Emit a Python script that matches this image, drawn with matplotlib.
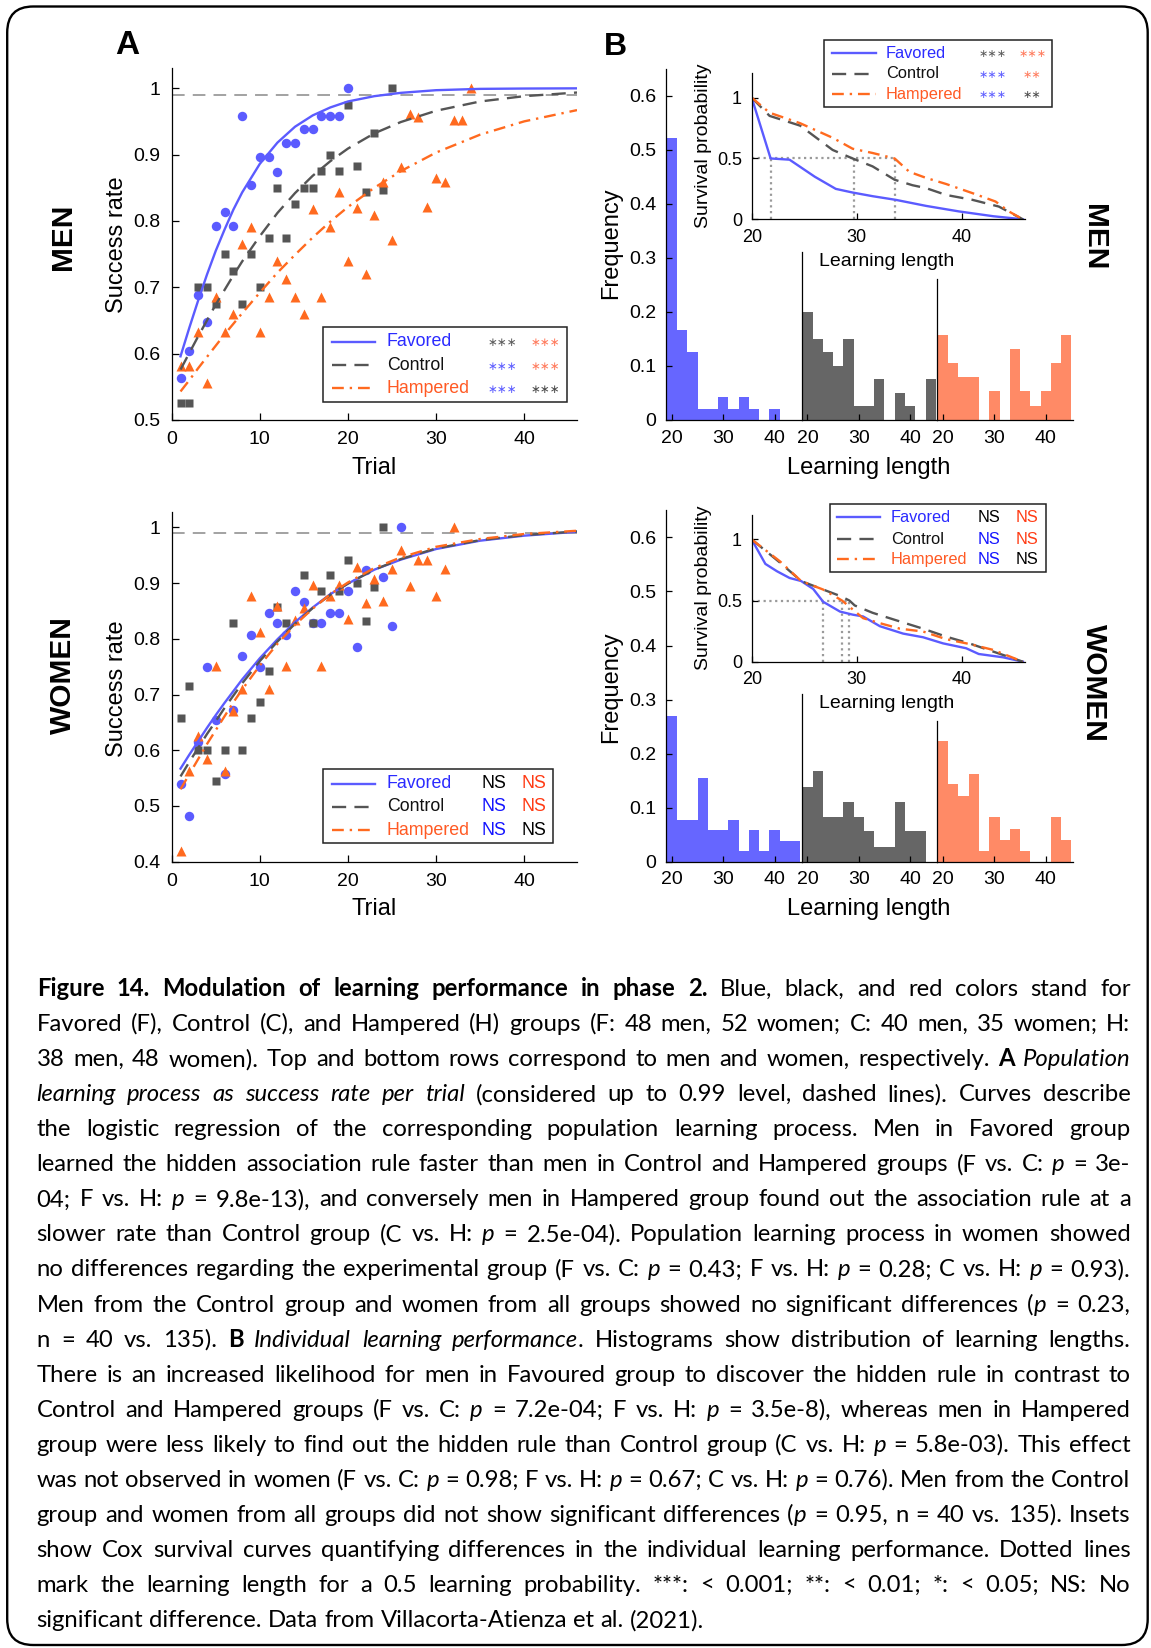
import numpy as np
import matplotlib
matplotlib.use('Agg')
import matplotlib.pyplot as plt
from matplotlib.patches import FancyBboxPatch, Rectangle
from matplotlib.lines import Line2D

plt.rcParams['font.family'] = ['Liberation Sans', 'DejaVu Sans']

# ---------------------------------------------------------------- data
GROUPS = ['Favored', 'Control', 'Hampered']
LEVEL = 0.99

A_XTICKS = [0, 10, 20, 30, 40]
MEN_YTICKS = [0.5, 0.6, 0.7, 0.8, 0.9, 1.0]
MEN_YLABELS = ['0.5', '0.6', '0.7', '0.8', '0.9', '1']
WOMEN_YTICKS = [0.4, 0.5, 0.6, 0.7, 0.8, 0.9, 1.0]
WOMEN_YLABELS = ['0.4', '0.5', '0.6', '0.7', '0.8', '0.9', '1']

# success rate per trial (men)
men_F_trial = [1, 2, 3, 4, 5, 6, 7, 8, 9, 10, 11, 12, 13, 14, 15, 16, 17, 18, 19, 20]
men_F_rate = [0.563, 0.604, 0.688, 0.648, 0.793, 0.813, 0.793, 0.958, 0.854, 0.897,
              0.897, 0.874, 0.917, 0.917, 0.938, 0.938, 0.958, 0.958, 0.958, 1.0]
men_C_trial = [1, 2, 3, 4, 5, 6, 7, 8, 9, 10, 11, 12, 13, 14, 15, 16, 17, 18, 19, 20,
               21, 22, 23, 24, 25]
men_C_rate = [0.525, 0.525, 0.700, 0.700, 0.675, 0.750, 0.725, 0.675, 0.750, 0.700,
              0.775, 0.850, 0.775, 0.825, 0.850, 0.850, 0.875, 0.900, 0.875, 0.975,
              0.883, 0.844, 0.933, 0.846, 1.0]
men_H_trial = [1, 2, 3, 4, 5, 6, 7, 8, 9, 10, 11, 12, 13, 14, 15, 16, 17, 18, 19, 20,
               21, 22, 23, 24, 25, 26, 27, 28, 29, 30, 31, 32, 33, 34]
men_H_rate = [0.581, 0.581, 0.633, 0.556, 0.685, 0.633, 0.659, 0.765, 0.791, 0.633,
              0.686, 0.739, 0.712, 0.686, 0.659, 0.818, 0.686, 0.791, 0.844, 0.739,
              0.820, 0.720, 0.809, 0.859, 0.771, 0.882, 0.961, 0.956, 0.821, 0.865,
              0.859, 0.952, 0.952, 1.0]

# success rate per trial (women)
women_F_trial = [1, 2, 3, 4, 5, 6, 7, 8, 9, 10, 11, 12, 13, 14, 15, 16, 17, 18, 19, 20,
                 21, 22, 24, 25, 26]
women_F_rate = [0.539, 0.482, 0.615, 0.750, 0.655, 0.557, 0.673, 0.769, 0.807, 0.750,
                0.847, 0.828, 0.807, 0.885, 0.866, 0.828, 0.828, 0.847, 0.847, 0.885,
                0.786, 0.923, 0.911, 0.823, 1.0]
women_C_trial = [1, 2, 3, 4, 5, 6, 7, 8, 9, 10, 11, 12, 13, 15, 16, 17, 18, 19, 20,
                 21, 22, 23, 24]
women_C_rate = [0.657, 0.715, 0.600, 0.600, 0.544, 0.600, 0.829, 0.600, 0.657, 0.686,
                0.743, 0.857, 0.829, 0.914, 0.829, 0.886, 0.914, 0.886, 0.942,
                0.900, 0.832, 0.892, 1.0]
women_H_trial = [1, 2, 3, 4, 5, 6, 7, 8, 9, 10, 11, 12, 13, 14, 15, 16, 17, 18, 19, 20,
                 21, 22, 23, 24, 25, 26, 27, 28, 29, 30, 31, 32]
women_H_rate = [0.419, 0.563, 0.625, 0.585, 0.752, 0.563, 0.670, 0.709, 0.877, 0.813,
                0.709, 0.858, 0.752, 0.834, 0.855, 0.896, 0.752, 0.877, 0.896, 0.835,
                0.928, 0.865, 0.908, 0.868, 0.926, 0.959, 0.895, 0.941, 0.941, 0.877,
                0.925, 1.0]

# logistic regression curves
FIT_TRIAL = [1, 2, 3, 4, 5, 6, 7, 8, 10, 12, 14, 16, 18, 20, 23, 26, 30, 35, 40, 46]
men_fit_F = [0.596, 0.639, 0.680, 0.719, 0.755, 0.787, 0.817, 0.843, 0.886, 0.918,
             0.942, 0.959, 0.971, 0.980, 0.988, 0.993, 0.997, 0.999, 0.9995, 0.9998]
men_fit_C = [0.576, 0.601, 0.626, 0.650, 0.674, 0.696, 0.718, 0.739, 0.777, 0.812,
             0.842, 0.868, 0.890, 0.909, 0.932, 0.949, 0.966, 0.980, 0.988, 0.9935]
men_fit_H = [0.543, 0.560, 0.578, 0.595, 0.612, 0.629, 0.645, 0.661, 0.692, 0.722,
             0.749, 0.775, 0.799, 0.821, 0.850, 0.875, 0.903, 0.930, 0.950, 0.967]
women_fit_F = [0.567, 0.592, 0.616, 0.640, 0.663, 0.685, 0.706, 0.727, 0.765, 0.799,
               0.830, 0.856, 0.880, 0.899, 0.924, 0.942, 0.961, 0.976, 0.985, 0.992]
women_fit_C = [0.553, 0.579, 0.604, 0.629, 0.652, 0.676, 0.698, 0.720, 0.760, 0.795,
               0.827, 0.855, 0.879, 0.899, 0.924, 0.943, 0.962, 0.977, 0.986, 0.9926]
women_fit_H = [0.530, 0.557, 0.584, 0.611, 0.636, 0.661, 0.686, 0.709, 0.752, 0.791,
               0.825, 0.854, 0.880, 0.901, 0.927, 0.946, 0.965, 0.979, 0.988, 0.9938]

# histograms of learning length (bin centres, width 2)
BIN_CENTERS = [20, 22, 24, 26, 28, 30, 32, 34, 36, 38, 40, 42, 44]
HIST_XTICKS = [20, 30, 40]
HIST_YTICKS = [0, 0.1, 0.2, 0.3, 0.4, 0.5, 0.6]
HIST_YLABELS = ['0', '0.1', '0.2', '0.3', '0.4', '0.5', '0.6']
men_hist_F = [0.521, 0.167, 0.125, 0.021, 0.021, 0.042, 0.021, 0.042, 0.021, 0, 0.021, 0, 0]
men_hist_C = [0.200, 0.150, 0.125, 0.100, 0.150, 0.025, 0.025, 0.075, 0, 0.050, 0.025, 0, 0.075]
men_hist_H = [0.158, 0.105, 0.079, 0.079, 0, 0.053, 0, 0.132, 0.053, 0.026, 0.053, 0.105, 0.158]
women_hist_F = [0.269, 0.077, 0.077, 0.154, 0.058, 0.058, 0.077, 0.019, 0.058, 0.019, 0.058, 0.038, 0.038]
women_hist_C = [0.139, 0.167, 0.083, 0.083, 0.111, 0.083, 0.056, 0.028, 0.028, 0.111, 0.056, 0.056, 0]
women_hist_H = [0.224, 0.143, 0.122, 0.163, 0.020, 0.082, 0.041, 0.061, 0.020, 0, 0, 0.082, 0.041]

# Cox survival curves
men_surv_F_x = [20, 21.8, 23.6, 26, 28, 29.6, 31.5, 33.7, 36.6, 39.7, 43, 45.8]
men_surv_F_y = [1.0, 0.5, 0.49, 0.35, 0.25, 0.22, 0.19, 0.16, 0.11, 0.065, 0.025, 0.0]
men_surv_C_x = [20, 21.7, 24.6, 27.7, 29.6, 31.5, 33.6, 35.3, 36.6, 38.5, 41, 43.5, 45.8]
men_surv_C_y = [1.0, 0.85, 0.77, 0.57, 0.50, 0.435, 0.325, 0.28, 0.256, 0.20, 0.16, 0.105, 0.0]
men_surv_H_x = [20, 21.7, 24.6, 27.7, 29.6, 31.5, 33.6, 35, 36.6, 38.5, 41, 43.2, 44.5, 45.8]
men_surv_H_y = [1.0, 0.876, 0.79, 0.67, 0.58, 0.545, 0.50, 0.39, 0.34, 0.29, 0.215, 0.146, 0.063, 0.0]
men_median = [21.8, 29.7, 33.6]

women_surv_F_x = [20, 21.3, 22.4, 23.6, 24.7, 25.85, 26.8, 28.4, 29.6, 30.6, 32.2, 34.4,
                  36.3, 38.2, 40.4, 41.6, 43.9, 45.8]
women_surv_F_y = [1.0, 0.80, 0.74, 0.685, 0.66, 0.595, 0.49, 0.41, 0.385, 0.37, 0.29, 0.23,
                  0.20, 0.15, 0.11, 0.063, 0.036, 0.0]
women_surv_C_x = [20, 22.7, 24.7, 26.8, 28.5, 29.3, 29.8, 31.5, 33.7, 36.3, 38.5, 40.7, 43, 45.8]
women_surv_C_y = [1.0, 0.81, 0.66, 0.59, 0.535, 0.50, 0.46, 0.40, 0.34, 0.27, 0.205, 0.15, 0.082, 0.0]
women_surv_H_x = [20, 22.7, 24.7, 26.8, 28.6, 30.6, 32.2, 34.1, 36.3, 38.5, 40.7, 43, 45.8]
women_surv_H_y = [1.0, 0.82, 0.66, 0.59, 0.50, 0.356, 0.315, 0.27, 0.247, 0.184, 0.145, 0.096, 0.0]
women_median = [26.8, 28.6, 29.3]

SURV_XTICKS = [20, 30, 40]
SURV_YTICKS = [0, 0.5, 1]
SURV_YLABELS = ['0', '0.5', '1']

# significance labels in legends (vs. the other two groups)
STAR3, STAR2 = '\u2217\u2217\u2217', '\u2217\u2217'
men_A_sig = [[STAR3, STAR3], [STAR3, STAR3], [STAR3, STAR3]]
men_B_sig = [[STAR3, STAR3], [STAR3, STAR2], [STAR3, STAR2]]
women_sig = [['NS', 'NS'], ['NS', 'NS'], ['NS', 'NS']]

# ---------------------------------------------------------------- styles
BLUE = '#5b5bff'
GRAY = '#555555'
ORANGE = '#ff6a1f'
HIST_COLORS = ['#6666ff', '#666666', '#ff8a66']
NAME_COLORS = ['#2b2bff', '#111111', '#ff5a24']
STAR_COLORS = [['#5c5c5c', '#ff7a5c'], ['#5e5eff', '#ff7a5c'], ['#5e5eff', '#4a4a4a']]
NS_COLORS = [['#000000', '#ff3b14'], ['#1414ff', '#ff3b14'], ['#1414ff', '#000000']]
LINE_STYLES = [dict(), dict(dashes=(6, 3.5)), dict(dashes=(5, 2.5, 1, 2.5))]
LINE_COLORS = [BLUE, GRAY, ORANGE]

W, H = 1151, 1648
fig = plt.figure(figsize=(W / 100, H / 100), dpi=100)


def fx(x):
    return x / W


def fy(y):
    return 1 - y / H


def rect(x0, y0, x1, y1):
    return [x0 / W, 1 - y1 / H, (x1 - x0) / W, (y1 - y0) / H]


def style_axis(ax, tick_size, pad, length=5):
    for s in ('top', 'right'):
        ax.spines[s].set_visible(False)
    for s in ('left', 'bottom'):
        ax.spines[s].set_linewidth(0.9)
    ax.tick_params(direction='in', length=length, width=0.9, labelsize=tick_size, pad=pad)
    ax.patch.set_alpha(0)


def draw_A(box, ylim, yticks, ylabels, pts, fits):
    ax = fig.add_axes(rect(*box))
    ax.axhline(LEVEL, color='#9b9b9b', lw=1.3, dashes=(7, 4.5), zorder=1)
    markers = [('o', 6.8), ('s', 5.6), ('^', 7.4)]
    for (tx, ty), (m, ms), c in zip(pts, markers, LINE_COLORS):
        ax.plot(tx, ty, m, ms=ms, color=c, mec='none', zorder=2)
    for fy_, c, st in zip(fits, LINE_COLORS, LINE_STYLES):
        ax.plot(FIT_TRIAL, fy_, color=c, lw=1.7, zorder=3, **st)
    ax.set_xlim(0, 46)
    ax.set_ylim(*ylim)
    ax.set_xticks(A_XTICKS)
    ax.set_yticks(yticks)
    ax.set_yticklabels(ylabels)
    style_axis(ax, 14, 8)
    return ax


def draw_hist(bottom, freqs):
    left0, wid = 666.2, 135.6
    per = 540.5
    tops = [0.65, 0.31, 0.26]
    for i in range(3):
        l = left0 + i * wid
        ax = fig.add_axes(rect(l, bottom - tops[i] * per, l + wid, bottom))
        ax.bar(BIN_CENTERS, freqs[i], width=2, color=HIST_COLORS[i], linewidth=0)
        ax.set_xlim(18.9, 45.3)
        ax.set_ylim(0, tops[i])
        ax.set_xticks(HIST_XTICKS)
        style_axis(ax, 14, 7, length=4)
        if i == 0:
            ax.set_yticks(HIST_YTICKS)
            ax.set_yticklabels(HIST_YLABELS)
        else:
            ax.set_yticks([])


def draw_inset(box, curves, medians):
    ax = fig.add_axes(rect(*box))
    dot = dict(colors='#9a9a9a', lw=1.6, linestyles=(0, (1, 1.6)), zorder=1)
    ax.hlines(0.5, 20, max(medians), **dot)
    ax.vlines(medians, 0, 0.5, **dot)
    for (cx, cy), c, st in zip(curves, LINE_COLORS, LINE_STYLES):
        ax.plot(cx, cy, color=c, lw=1.7, zorder=2, **st)
    ax.set_xlim(20, 46)
    ax.set_ylim(0, 1.2)
    ax.set_xticks(SURV_XTICKS)
    ax.set_yticks(SURV_YTICKS)
    ax.set_yticklabels(SURV_YLABELS)
    style_axis(ax, 13, 7, length=4)


def draw_legend(box, sx, tx, rows, cols, sig, sig_colors, fs, sig_fs, is_star):
    x0, y0, x1, y1 = box
    fig.add_artist(Rectangle((fx(x0), fy(y1)), (x1 - x0) / W, (y1 - y0) / H,
                             transform=fig.transFigure, fc='white', ec='#222222',
                             lw=1.1, zorder=5))
    for i, yy in enumerate(rows):
        fig.add_artist(Line2D([fx(sx[0]), fx(sx[1])], [fy(yy), fy(yy)],
                              transform=fig.transFigure, color=LINE_COLORS[i],
                              lw=1.7, zorder=6, **LINE_STYLES[i]))
        fig.text(fx(tx), fy(yy), GROUPS[i], color=NAME_COLORS[i], fontsize=fs,
                 ha='left', va='center', zorder=7)
        for j, cx in enumerate(cols):
            kw = dict(family=['DejaVu Sans']) if is_star else {}
            fig.text(fx(cx), fy(yy + (1.0 if is_star else 0)), sig[i][j],
                     color=sig_colors[i][j], fontsize=sig_fs,
                     ha='center', va='center', zorder=7, **kw)


# ---------------------------------------------------------------- panel A
draw_A((171.7, 68.3, 577, 420), (0.5, 1.03), MEN_YTICKS, MEN_YLABELS,
       [(men_F_trial, men_F_rate), (men_C_trial, men_C_rate), (men_H_trial, men_H_rate)],
       [men_fit_F, men_fit_C, men_fit_H])
draw_A((171.7, 511.7, 577, 861.7), (0.4, 1.028), WOMEN_YTICKS, WOMEN_YLABELS,
       [(women_F_trial, women_F_rate), (women_C_trial, women_C_rate),
        (women_H_trial, women_H_rate)],
       [women_fit_F, women_fit_C, women_fit_H])

# ---------------------------------------------------------------- panel B
draw_hist(420, [men_hist_F, men_hist_C, men_hist_H])
draw_hist(861.7, [women_hist_F, women_hist_C, women_hist_H])
draw_inset((751.7, 73.3, 1025, 219.3),
           [(men_surv_F_x, men_surv_F_y), (men_surv_C_x, men_surv_C_y),
            (men_surv_H_x, men_surv_H_y)], men_median)
draw_inset((751.7, 515, 1025, 661.7),
           [(women_surv_F_x, women_surv_F_y), (women_surv_C_x, women_surv_C_y),
            (women_surv_H_x, women_surv_H_y)], women_median)

# legends
draw_legend((323.3, 326.7, 566.7, 401.7), (331.7, 375), 386.7, (341.7, 365, 388.3),
            (502.3, 545.7), men_A_sig, STAR_COLORS, 12.8, 8.5, True)
draw_legend((323.3, 769.3, 553.3, 843.3), (331.7, 375), 386.7, (784, 806.7, 830),
            (494, 534.3), women_sig, NS_COLORS, 12.8, 12.8, False)
draw_legend((824, 40, 1051.7, 107.3), (831.7, 876), 885.7, (53.3, 74, 94),
            (992.3, 1032.3), men_B_sig, STAR_COLORS, 11.8, 8, True)
draw_legend((830, 504, 1046, 571.7), (836.7, 880), 890.7, (517.3, 539, 559.3),
            (989.3, 1026.7), women_sig, NS_COLORS, 11.8, 11.8, False)

# ---------------------------------------------------------------- labels
def lab(x, y, s, size, rot=0, **kw):
    fig.text(fx(x), fy(y), s, fontsize=size, rotation=rot, ha='center', va='center', **kw)


lab(116.7, 245, 'Success rate', 17, 90)
lab(374, 468, 'Trial', 17)
lab(116.7, 688.5, 'Success rate', 17, 90)
lab(374, 909, 'Trial', 17)
lab(611, 243, 'Frequency', 17, 90)
lab(869, 468, 'Learning length', 17)
lab(611, 687, 'Frequency', 17, 90)
lab(869, 909, 'Learning length', 17)
lab(887, 262, 'Learning length', 14)
lab(704, 146, 'Survival probability', 14, 90)
lab(887, 704, 'Learning length', 14)
lab(704, 588, 'Survival probability', 14, 90)
lab(127.5, 45.5, 'A', 24, fontweight='bold')
lab(615, 47, 'B', 23, fontweight='bold')
lab(63, 236.5, 'MEN', 21.5, 90, fontweight='bold')
lab(63, 675, 'WOMEN', 21.5, 90, fontweight='bold')
lab(1094, 236.7, 'MEN', 21.5, -90, fontweight='bold')
lab(1094, 683.3, 'WOMEN', 21.5, -90, fontweight='bold')

# ---------------------------------------------------------------- border
fig.add_artist(FancyBboxPatch((0.072, 0.03), 11.405, 16.385,
                              boxstyle='round,pad=0,rounding_size=0.26',
                              transform=fig.dpi_scale_trans, fill=False,
                              lw=1.7, ec='black', zorder=10))

# ---------------------------------------------------------------- caption
CAPTION_LINES = [
    [("Figure 14. Modulation of learning performance in phase 2.", 'b'),
     (" Blue, black, and red colors stand for", 'n')],
    [("Favored (F), Control (C), and Hampered (H) groups (F: 48 men, 52 women; C: 40 men, 35 women; H:", 'n')],
    [("38 men, 48 women). Top and bottom rows correspond to men and women, respectively. ", 'n'),
     ("A", 'b'), (" ", 'n'), ("Population", 'i')],
    [("learning process as success rate per trial", 'i'),
     (" (considered up to 0.99 level, dashed lines). Curves describe", 'n')],
    [("the logistic regression of the corresponding population learning process. Men in Favored group", 'n')],
    [("learned the hidden association rule faster than men in Control and Hampered groups (F vs. C: ", 'n'),
     ("p", 'i'), (" = 3e-", 'n')],
    [("04; F vs. H: ", 'n'), ("p", 'i'),
     (" = 9.8e-13), and conversely men in Hampered group found out the association rule at a", 'n')],
    [("slower rate than Control group (C vs. H: ", 'n'), ("p", 'i'),
     (" = 2.5e-04). Population learning process in women showed", 'n')],
    [("no differences regarding the experimental group (F vs. C: ", 'n'), ("p", 'i'),
     (" = 0.43; F vs. H: ", 'n'), ("p", 'i'), (" = 0.28; C vs. H: ", 'n'), ("p", 'i'),
     (" = 0.93).", 'n')],
    [("Men from the Control group and women from all groups showed no significant differences (", 'n'),
     ("p", 'i'), (" = 0.23,", 'n')],
    [("n = 40 vs. 135). ", 'n'), ("B", 'b'), (" ", 'n'), ("Individual learning performance", 'i'),
     (". Histograms show distribution of learning lengths.", 'n')],
    [("There is an increased likelihood for men in Favoured group to discover the hidden rule in contrast to", 'n')],
    [("Control and Hampered groups (F vs. C: ", 'n'), ("p", 'i'), (" = 7.2e-04; F vs. H: ", 'n'),
     ("p", 'i'), (" = 3.5e-8), whereas men in Hampered", 'n')],
    [("group were less likely to find out the hidden rule than Control group (C vs. H: ", 'n'),
     ("p", 'i'), (" = 5.8e-03). This effect", 'n')],
    [("was not observed in women (F vs. C: ", 'n'), ("p", 'i'), (" = 0.98; F vs. H: ", 'n'),
     ("p", 'i'), (" = 0.67; C vs. H: ", 'n'), ("p", 'i'), (" = 0.76). Men from the Control", 'n')],
    [("group and women from all groups did not show significant differences (", 'n'), ("p", 'i'),
     (" = 0.95, n = 40 vs. 135). Insets", 'n')],
    [("show Cox survival curves quantifying differences in the individual learning performance. Dotted lines", 'n')],
    [("mark the learning length for a 0.5 learning probability. ***: < 0.001; **: < 0.01; *: < 0.05; NS: No", 'n')],
    [("significant difference. Data from Villacorta-Atienza et al. (2021).", 'n')],
]

CAP_FONT = ['Lato', 'DejaVu Sans']
CAP_LEFT, CAP_RIGHT = 36.7, 1130.5
CAP_BASE0, CAP_STEP = 996.0, 35.06
STY = {'n': {}, 'b': {'fontweight': 'bold'}, 'i': {'fontstyle': 'italic'}}

renderer = fig.canvas.get_renderer()


def measure(s, st, size):
    t = fig.text(0, 0, s, fontsize=size, family=CAP_FONT, **STY[st])
    w = t.get_window_extent(renderer).width
    t.remove()
    return w


lines_words = []
for runs in CAPTION_LINES:
    words, new = [], True
    for text, st in runs:
        for k, p in enumerate(text.split(' ')):
            if k > 0:
                new = True
            if p == '':
                continue
            if new or not words:
                words.append([(p, st)])
                new = False
            else:
                words[-1].append((p, st))
    lines_words.append(words)

target = CAP_RIGHT - CAP_LEFT
base = 10.0
sp0 = measure('x x', 'n', base) - measure('xx', 'n', base)
nat = []
for words in lines_words[:-1]:
    ww = sum(measure(p, st, base) for w in words for (p, st) in w)
    nat.append(ww + sp0 * (len(words) - 1))
size = base * target / max(nat) * 0.995

sp = measure('x x', 'n', size) - measure('xx', 'n', size)
for li, words in enumerate(lines_words):
    widths = [[measure(p, st, size) for (p, st) in w] for w in words]
    tot = sum(sum(w) for w in widths)
    last = li == len(lines_words) - 1
    gap = sp if last else (target - tot) / (len(words) - 1)
    x = CAP_LEFT
    y = fy(CAP_BASE0 + li * CAP_STEP)
    for w, wl in zip(words, widths):
        xx = x
        for (p, st), pw in zip(w, wl):
            fig.text(fx(xx), y, p, fontsize=size, family=CAP_FONT, ha='left',
                     va='baseline', **STY[st])
            xx += pw
        x += sum(wl) + gap

fig.savefig('out.png', dpi=100)
